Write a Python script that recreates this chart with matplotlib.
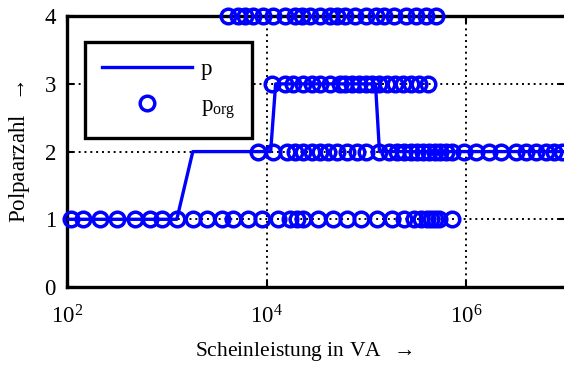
import matplotlib
matplotlib.use("Agg")
import matplotlib.pyplot as plt
from matplotlib.ticker import NullLocator, FixedLocator

plt.rcParams['font.family'] = ['Liberation Serif', 'DejaVu Serif']
plt.rcParams['mathtext.fontset'] = 'custom'
plt.rcParams['mathtext.rm'] = 'Liberation Serif'
plt.rcParams['mathtext.it'] = 'Liberation Serif:italic'

# Fitted pole pair number p over apparent power (VA)
p_S = [100, 1259, 1820, 10965, 12303, 123027, 134896, 1e7]
p_val = [1, 1, 2, 2, 3, 3, 2, 2]

# Original data points p_org, grouped by pole pair number
S_p1 = [110, 145, 214, 316, 479, 676, 891, 1259, 1820, 2512, 3548, 4571, 6457,
        8913, 12882, 16982, 19953, 22909, 32359, 45709, 63096, 89125, 128825,
        181970, 239883, 301995, 354813, 407380, 446684, 489779, 537032, 724436]
S_p2 = [8128, 11482, 15849, 19055, 22909, 28184, 33884, 40738, 50119, 63096,
        79433, 100000, 134896, 169824, 204174, 239883, 281838, 323594, 371535,
        426580, 489779, 549541, 630957, 724436, 954993, 1258925, 1698244,
        2238721, 3162278, 3981072, 5011872, 6309573, 7585776, 9120108]
S_p3 = [11220, 15136, 18197, 22909, 28184, 33884, 42658, 53703, 60256, 70795,
        85114, 100000, 114815, 134896, 162181, 194984, 234423, 281838, 338844,
        416869]
S_p4 = [4074, 5129, 6026, 7244, 9120, 11482, 15136, 19055, 22387, 26915, 33884,
        42658, 50119, 60256, 75858, 100000, 125893, 151356, 190546, 251189,
        316228, 398107, 501187]

org_S = S_p1 + S_p2 + S_p3 + S_p4
org_p = [1] * len(S_p1) + [2] * len(S_p2) + [3] * len(S_p3) + [4] * len(S_p4)

x_ticks = [1e2, 1e4, 1e6]
y_ticks = [0, 1, 2, 3, 4]

fig = plt.figure(figsize=(5.64, 3.65), dpi=100)
ax = fig.add_axes([0.1188, 0.2137, 0.885, 0.742])

blue = '#0000ff'
ax.plot(p_S, p_val, color=blue, lw=2.4, label='p', zorder=3)
ax.plot(org_S, org_p, linestyle='none', marker='o', markersize=10.5,
        markerfacecolor='none', markeredgecolor=blue, markeredgewidth=2.5,
        label=r'p$_{\mathrm{org}}$', clip_on=False, zorder=4)

ax.set_xscale('log')
ax.set_xlim(1e2, 1e7)
ax.set_ylim(0, 4)
ax.xaxis.set_major_locator(FixedLocator(x_ticks))
ax.xaxis.set_minor_locator(NullLocator())
ax.yaxis.set_major_locator(FixedLocator(y_ticks))

ax.grid(True, which='major', color='black', linestyle=(0, (1, 2)), linewidth=1.4)
ax.set_axisbelow(False)
for sp in ax.spines.values():
    sp.set_linewidth(2.4)
ax.tick_params(direction='in', length=5, width=1.5, labelsize=16.5,
               top=True, right=True)
ax.tick_params(axis='x', pad=13)
ax.tick_params(axis='y', pad=8)

ax.set_xlabel(r'Scheinleistung in VA  $\rightarrow$', fontsize=15.5)
ax.set_ylabel(r'Polpaarzahl  $\rightarrow$', fontsize=16.5)
ax.xaxis.set_label_coords(0.474, -0.195)
ax.yaxis.set_label_coords(-0.07, 0.5)

leg = ax.legend(loc='upper left', bbox_to_anchor=(0.036, 0.904), borderaxespad=0,
                fontsize=16.5, handlelength=3.9, numpoints=1, fancybox=False,
                framealpha=1, edgecolor='black', labelspacing=0.65,
                borderpad=0.75, handletextpad=0.4)
leg.get_frame().set_linewidth(2.4)

fig.savefig('out.png', dpi=100)
